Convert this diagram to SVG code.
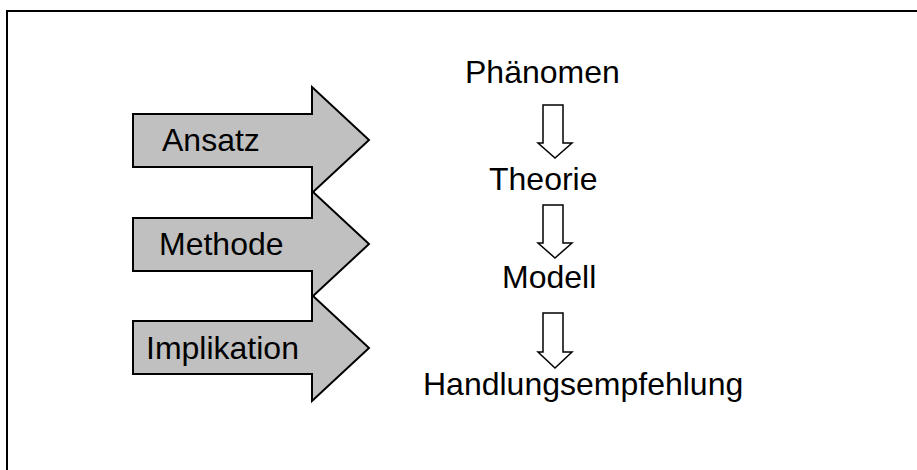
<svg xmlns="http://www.w3.org/2000/svg" width="917" height="470" viewBox="0 0 917 470">
  <style>
    .frame { fill: #ffffff; stroke: #000000; stroke-width: 2; }
    .big { fill: #c0c0c0; stroke: #000000; stroke-width: 2; stroke-linejoin: miter; }
    .small { fill: #ffffff; stroke: #000000; stroke-width: 1.5; stroke-linejoin: miter; }
    text { font-family: "Liberation Sans", Arial, sans-serif; font-size: 32px; fill: #000000; }
  </style>
  <rect width="917" height="470" fill="#ffffff"/>
  <rect class="frame" x="7" y="11" width="930" height="480"/>

  <!-- left-hand block arrows -->
  <g id="ansatz">
    <polygon class="big" points="133,114 312,114 312,87 369,140 312,193 312,167 133,167"/>
    <text x="162" y="151">Ansatz</text>
  </g>
  <g id="methode">
    <polygon class="big" points="133,218 312,218 312,191 369,244 312,297 312,271 133,271"/>
    <text x="159" y="255">Methode</text>
  </g>
  <g id="implikation">
    <polygon class="big" points="133,321 312,321 312,295 369,348 312,401 312,374 133,374"/>
    <text x="146" y="359">Implikation</text>
  </g>

  <!-- right-hand chain -->
  <g id="phaenomen"><text x="465" y="83">Phänomen</text></g>
  <g id="theorie"><text x="489" y="190">Theorie</text></g>
  <g id="modell"><text x="502" y="288">Modell</text></g>
  <g id="handlungsempfehlung"><text x="423" y="395">Handlungsempfehlung</text></g>

  <g id="connectors">
    <polygon class="small" points="543,105 563,105 563,143 572,143 555,158 538,143 543,143"/>
    <polygon class="small" points="543,205 563,205 563,243 572,243 555,258 538,243 543,243"/>
    <polygon class="small" points="543,313 563,313 563,352 572,352 555,368 538,352 543,352"/>
  </g>
</svg>
